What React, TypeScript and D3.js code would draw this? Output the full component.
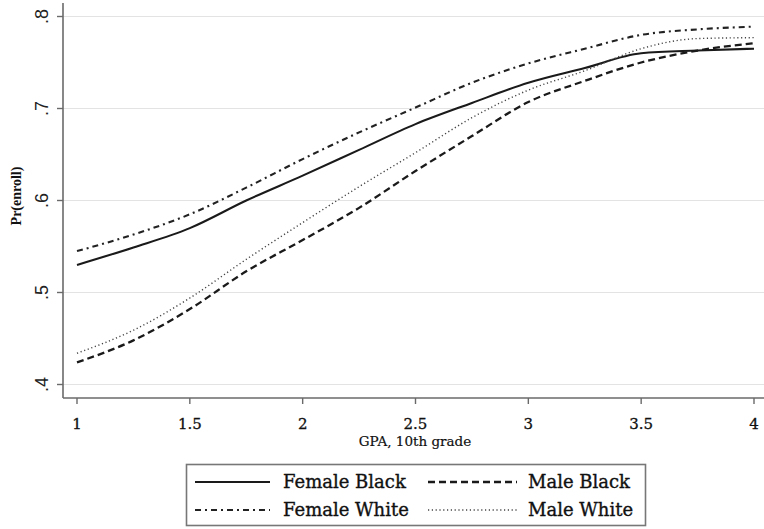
import React, { useEffect, useRef } from "react";
import * as d3 from "d3";

const gpa = [1, 1.25, 1.5, 1.75, 2, 2.25, 2.5, 2.75, 3, 3.25, 3.5, 3.75, 4];
const femaleBlack = [0.53, 0.549, 0.57, 0.6, 0.627, 0.655, 0.683, 0.706, 0.728, 0.744, 0.76, 0.763, 0.765];
const femaleWhite = [0.545, 0.563, 0.585, 0.614, 0.645, 0.674, 0.701, 0.728, 0.749, 0.765, 0.78, 0.786, 0.789];
const maleBlack = [0.424, 0.448, 0.482, 0.523, 0.557, 0.592, 0.632, 0.67, 0.707, 0.73, 0.75, 0.763, 0.771];
const maleWhite = [0.434, 0.459, 0.494, 0.536, 0.576, 0.615, 0.652, 0.69, 0.72, 0.741, 0.765, 0.776, 0.777];

const xTicks = [1, 1.5, 2, 2.5, 3, 3.5, 4];
const xTickLabels = ["1", "1.5", "2", "2.5", "3", "3.5", "4"];
const yTicks = [0.4, 0.5, 0.6, 0.7, 0.8];
const yTickLabels = [".4", ".5", ".6", ".7", ".8"];

const seriesNames = ["Female Black", "Male Black", "Female White", "Male White"];

export default function App() {
  const ref = useRef<SVGSVGElement>(null);

  useEffect(() => {
    const svg = d3.select(ref.current);
    svg.selectAll("*").remove();
    const W = 764, H = 529;
    const axisX = 63, axisY = 398;
    const x = d3.scaleLinear().domain([1, 4]).range([77, 754]);
    const y = d3.scaleLinear().domain([0.4, 0.8]).range([384.5, 16.5]);

    svg.append("rect").attr("width", W).attr("height", H).attr("fill", "#fff");

    // gridlines
    svg.append("g").selectAll("line").data(yTicks).join("line")
      .attr("x1", axisX).attr("x2", W)
      .attr("y1", d => y(d)).attr("y2", d => y(d))
      .attr("stroke", "#e3e3e3").attr("stroke-width", 1.2);

    // axes
    const axisColor = "#6a6a6a";
    svg.append("line").attr("x1", axisX).attr("x2", axisX).attr("y1", 3).attr("y2", axisY)
      .attr("stroke", axisColor).attr("stroke-width", 1.6);
    svg.append("line").attr("x1", axisX).attr("x2", W).attr("y1", axisY).attr("y2", axisY)
      .attr("stroke", axisColor).attr("stroke-width", 1.6);

    // y ticks
    const yg = svg.append("g");
    yg.selectAll("line").data(yTicks).join("line")
      .attr("x1", 57).attr("x2", axisX).attr("y1", d => y(d)).attr("y2", d => y(d))
      .attr("stroke", axisColor).attr("stroke-width", 1.4);
    yg.selectAll("text").data(yTicks).join("text")
      .attr("transform", d => `translate(48,${y(d)}) rotate(-90)`)
      .attr("text-anchor", "middle")
      .attr("font-family", "Liberation Sans, Arial, sans-serif")
      .attr("font-size", 18).attr("fill", "#222")
      .text((d, i) => yTickLabels[i]);

    // x ticks
    const xg = svg.append("g");
    xg.selectAll("line").data(xTicks).join("line")
      .attr("x1", d => x(d)).attr("x2", d => x(d)).attr("y1", axisY).attr("y2", axisY + 6)
      .attr("stroke", axisColor).attr("stroke-width", 1.4);
    xg.selectAll("text").data(xTicks).join("text")
      .attr("x", d => x(d)).attr("y", 429)
      .attr("text-anchor", "middle")
      .attr("font-family", "DejaVu Serif, serif")
      .attr("font-size", 15).attr("fill", "#111")
      .attr("stroke", "#111").attr("stroke-width", 0.3)
      .text((d, i) => xTickLabels[i]);

    // titles
    svg.append("text").attr("x", 415).attr("y", 446).attr("text-anchor", "middle")
      .attr("font-family", "DejaVu Serif, serif").attr("font-size", 13.5).attr("fill", "#111")
      .attr("stroke", "#111").attr("stroke-width", 0.2)
      .text("GPA, 10th grade");
    svg.append("text").attr("transform", "translate(21,196) rotate(-90)").attr("text-anchor", "middle")
      .attr("font-family", "Liberation Serif, serif").attr("font-weight", "bold")
      .attr("font-size", 14).attr("fill", "#111")
      .text("Pr(enroll)");

    const styles = [
      { data: femaleBlack, dash: null, width: 2.1, color: "#1a1a1a" },
      { data: maleBlack, dash: "7,4", width: 2.3, color: "#1a1a1a" },
      { data: femaleWhite, dash: "6,4,2,4", width: 2.1, color: "#222" },
      { data: maleWhite, dash: "1.2,2.6", width: 1.4, color: "#444" },
    ];

    const line = d3.line<number>()
      .x((d, i) => x(gpa[i]))
      .y(d => y(d))
      .curve(d3.curveMonotoneX);

    styles.forEach(s => {
      const p = svg.append("path").attr("d", line(s.data) as string)
        .attr("fill", "none").attr("stroke", s.color).attr("stroke-width", s.width)
        .attr("stroke-linejoin", "round");
      if (s.dash) p.attr("stroke-dasharray", s.dash);
    });

    // legend
    const lg = svg.append("g");
    lg.append("rect").attr("x", 186.5).attr("y", 464.5).attr("width", 459).attr("height", 61)
      .attr("fill", "#fff").attr("stroke", "#777").attr("stroke-width", 1.6);
    const cols = [{ x1: 195, x2: 270, tx: 283 }, { x1: 428, x2: 517, tx: 528 }];
    const rows = [482, 510];
    seriesNames.forEach((name, i) => {
      const c = cols[i % 2], r = rows[Math.floor(i / 2)];
      const s = styles[i];
      const l = lg.append("line").attr("x1", c.x1).attr("x2", c.x2).attr("y1", r).attr("y2", r)
        .attr("stroke", s.color).attr("stroke-width", s.width);
      if (s.dash) l.attr("stroke-dasharray", s.dash);
      lg.append("text").attr("x", c.tx).attr("y", r + 6)
        .attr("font-family", "DejaVu Serif, serif").attr("font-size", 18).attr("fill", "#111")
        .attr("stroke", "#111").attr("stroke-width", 0.35)
        .text(name);
    });
  }, []);

  return (
    <svg ref={ref} width={764} height={529}
      style={{ position: "absolute", left: 0, top: 0, display: "block" }} />
  );
}
